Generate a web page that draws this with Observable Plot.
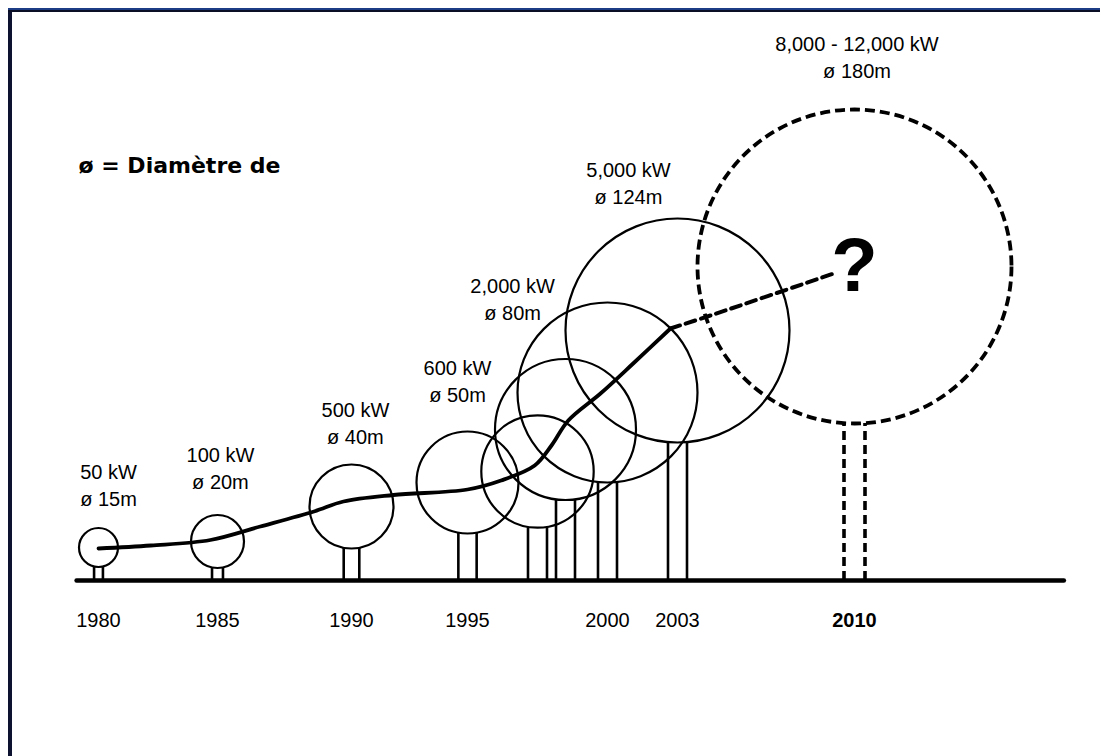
<!DOCTYPE html>
<html>
<head>
<meta charset="utf-8">
<script src="https://cdn.jsdelivr.net/npm/d3@7"></script>
<script src="https://cdn.jsdelivr.net/npm/@observablehq/plot@0.6"></script>
<style>
  html, body { margin: 0; padding: 0; background: #fff; }
  #wrap { position: relative; width: 1100px; height: 756px; overflow: hidden; background: #fff; }
  #chart { position: absolute; left: 0; top: 0; }
  .edge-left { position: absolute; left: 8px; top: 8px; width: 4px; height: 760px; background: #0c1230; }
  .edge-top { position: absolute; left: 8px; top: 8px; width: 1100px; height: 4px; background: linear-gradient(#1d3c86 0 45%, #0a0f26 45% 100%); }
</style>
</head>
<body>
<div id="wrap">
  <div id="chart"></div>
  <div class="edge-left"></div>
  <div class="edge-top"></div>
</div>
<script>
// ---- Data ----
const yearTicks = [1980, 1985, 1990, 1995, 2000, 2003, 2010];
const treeYear = [1980, 1985, 1990, 1995, 1997.5, 1998.5, 2000, 2003, 2010];
const rotorDiameter = [15, 20, 40, 50, 54, 65, 80, 124, 180];      // m
const hubHeight = [13.2, 15.6, 29.6, 39.2, 43.6, 60.4, 75.2, 100, 125.6]; // m (drawing units)
const projected = [false, false, false, false, false, false, false, false, true];

const powerLabel = ["50 kW", "100 kW", "500 kW", "600 kW", "2,000 kW", "5,000 kW", "8,000 - 12,000 kW"];
const diameterLabel = ["ø 15m", "ø 20m", "ø 40m", "ø 50m", "ø 80m", "ø 124m", "ø 180m"];
const labelYear = [1980.42, 1985.11, 1990.17, 1994.57, 1996.61, 2000.9, 2010.1];
const labelHeight = [37.8, 44.6, 62.6, 79.2, 112.2, 158.4, 208.8];

const trendYear = [1980, 1982.2, 1984.7, 1986.6, 1988.6, 1989.7, 1991.8, 1995, 1996.2, 1997.4, 1998.0, 1998.6, 1999.75, 2001.1, 2002.7];
const trendHeight = [12.8, 14, 16.2, 21.6, 27.6, 31.6, 34.2, 36.4, 40, 46, 54, 64, 74.8, 86.8, 100.8];
const forecastYear = [2002.7, 2004.3, 2009.3];
const forecastHeight = [100.8, 106, 123.2];

// ---- Scale configuration (layout of the illustration) ----
const xKnotsPx = [98, 217, 351, 467, 607, 677, 854];
const yDomain = [0, 100], yRange = [580, 330];
const rDomain = [0, 15, 20, 40, 50, 80, 124, 180];
const rRange = [0, 19.5, 26.5, 42, 51, 90, 112, 157];
const groundSpan = [1979.1, 2018.3];

const rPx = d3.scaleLinear(rDomain, rRange);
const pxPerUnit = (yRange[0] - yRange[1]) / (yDomain[1] - yDomain[0]);

const trees = treeYear.map((year, i) => ({
  year, diam: rotorDiameter[i], hub: hubHeight[i], projected: projected[i],
  top: hubHeight[i] - rPx(rotorDiameter[i]) / pxPerUnit,
  half: Math.min(9.5, 1.5 + rPx(rotorDiameter[i]) * 0.15) + (projected[i] ? 1 : 0)
}));
const labels = powerLabel.map((p, i) => ({p, d: diameterLabel[i], x: labelYear[i], y: labelHeight[i]}));
const trend = trendYear.map((x, i) => ({x, y: trendHeight[i]}));
const forecast = forecastYear.map((x, i) => ({x, y: forecastHeight[i]}));

const font = "'Liberation Sans', Arial, sans-serif";

const trunkMarks = trees.flatMap(t => [-t.half, t.half].map(off =>
  Plot.ruleX([t], {
    x: "year", y1: () => 0, y2: "top", dx: off,
    stroke: "black",
    strokeWidth: t.projected ? 3.6 : 2.6,
    strokeDasharray: t.projected ? "9,5" : null
  })
));

const chart = Plot.plot({
  width: 1100, height: 756,
  margin: 0,
  x: {type: "linear", domain: yearTicks, range: xKnotsPx, axis: null},
  y: {type: "linear", domain: yDomain, range: yRange, axis: null},
  r: {type: "linear", domain: rDomain, range: rRange},
  style: {fontFamily: font, background: "white", color: "black"},
  marks: [
    ...trunkMarks,
    Plot.dot(trees.filter(d => !d.projected), {x: "year", y: "hub", r: "diam", fill: "none", stroke: "black", strokeWidth: 2.2}),
    Plot.dot(trees.filter(d => d.projected), {x: "year", y: "hub", r: "diam", fill: "none", stroke: "black", strokeWidth: 3.8, strokeDasharray: "10,5"}),
    Plot.line(trend, {x: "x", y: "y", curve: "catmull-rom", stroke: "black", strokeWidth: 3.8, strokeLinecap: "round", strokeLinejoin: "round"}),
    Plot.line(forecast, {x: "x", y: "y", curve: "catmull-rom", stroke: "black", strokeWidth: 4, strokeDasharray: "10,6"}),
    Plot.ruleY([0], {x1: () => groundSpan[0], x2: () => groundSpan[1], stroke: "black", strokeWidth: 4.5, strokeLinecap: "round"}),
    Plot.text(trees.filter(d => d.projected), {x: "year", y: "hub", text: () => "?", fontSize: 76, fontWeight: "bold", fill: "black", lineAnchor: "middle"}),
    Plot.text(labels, {x: "x", y: "y", text: "p", dy: -13.5, fontSize: 20, fill: "black", lineAnchor: "middle"}),
    Plot.text(labels, {x: "x", y: "y", text: "d", dy: 13.5, fontSize: 20, fill: "black", lineAnchor: "middle"}),
    Plot.text(yearTicks.filter(d => d !== 2010), {x: d => d, y: () => 0, text: d => String(d), dy: 40, fontSize: 20, fill: "black", lineAnchor: "middle"}),
    Plot.text(yearTicks.filter(d => d === 2010), {x: d => d, y: () => 0, text: d => String(d), dy: 40, fontSize: 20, fontWeight: "bold", fill: "black", lineAnchor: "middle"}),
    Plot.text(["ø = Diamètre de"], {frameAnchor: "top-left", dx: 78, dy: 165, text: d => d, textAnchor: "start", lineAnchor: "middle", fontSize: 22, fontWeight: "bold", fontFamily: "'DejaVu Sans', sans-serif", fill: "black"})
  ]
});
document.getElementById("chart").append(chart);
</script>
</body>
</html>
